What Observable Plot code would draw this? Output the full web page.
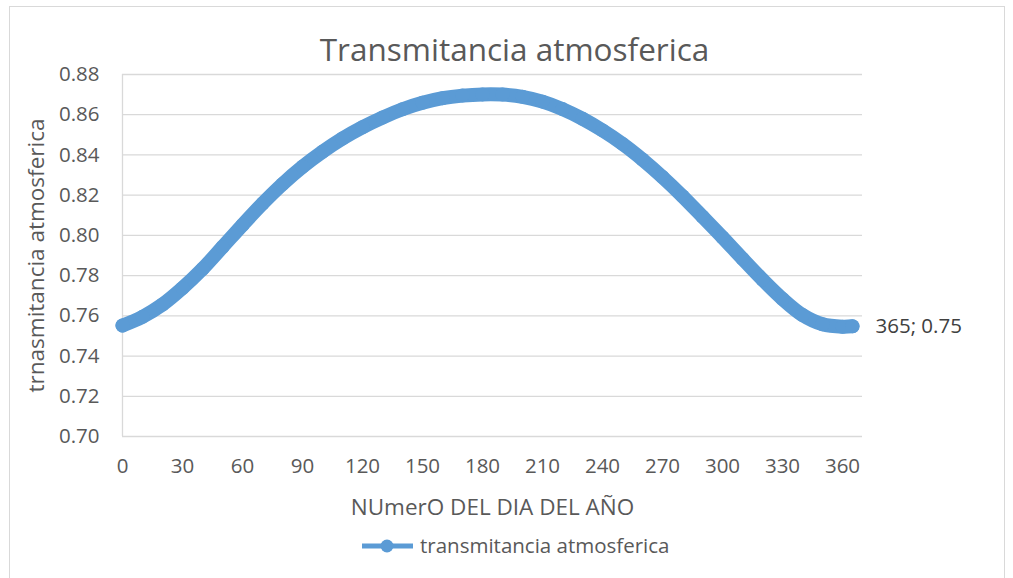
<!DOCTYPE html>
<html>
<head>
<meta charset="utf-8">
<script src="https://cdn.jsdelivr.net/npm/d3@7"></script>
<script src="https://cdn.jsdelivr.net/npm/@observablehq/plot@0.6"></script>
<style>
  html, body { margin: 0; padding: 0; background: #fff; }
  #chart { position: relative; width: 1013px; height: 578px; overflow: hidden; font-family: "Open Sans", sans-serif; }
  #frame { position: absolute; left: 9px; top: 6px; width: 996px; height: 620px; border: 1px solid #d9d9d9; box-sizing: border-box; }
  #title { position: absolute; left: 8px; top: 33px; width: 1013px; text-align: center; font-size: 31.5px; line-height: 1; color: #595959; white-space: nowrap; }
  #plot { position: absolute; left: 0; top: 0; }
  #legend-key { position: absolute; left: 360px; top: 539px; }
  #legend-text { position: absolute; left: 420px; top: 535px; font-size: 20.5px; line-height: 1; color: #595959; white-space: nowrap; }
</style>
</head>
<body>
<div id="chart">
  <div id="frame"></div>
  <div id="plot"></div>
  <div id="title">Transmitancia atmosferica</div>
  <svg id="legend-key" width="56" height="14"></svg>
  <div id="legend-text"></div>
</div>
<script>
// Day of the year and the atmospheric transmittance for that day
const days = [0, 10, 20, 30, 40, 50, 60, 70, 80, 90, 100, 110, 120, 130, 140, 150, 160, 170, 180,
              190, 200, 210, 220, 230, 240, 250, 260, 270, 280, 290, 300, 310, 320, 330, 340, 350, 360, 365];
const transmittance = [0.7552, 0.7595, 0.7656, 0.7738, 0.7833, 0.7942, 0.8052, 0.8158, 0.8255, 0.8341,
                       0.8416, 0.8482, 0.8538, 0.8586, 0.8627, 0.8659, 0.8682, 0.8695, 0.8701,
                       0.8700, 0.8689, 0.8665, 0.8628, 0.8580, 0.8522, 0.8455, 0.8377, 0.8290, 0.8195,
                       0.8093, 0.7990, 0.7884, 0.7780, 0.7684, 0.7604, 0.7558, 0.7546, 0.7548];

const seriesName = "transmitancia atmosferica";
const xTitle = "NUmerO DEL DIA DEL AÑO";
const yTitle = "trnasmitancia atmosferica";
const xTicks = [0, 30, 60, 90, 120, 150, 180, 210, 240, 270, 300, 330, 360];
const yTicks = [0.70, 0.72, 0.74, 0.76, 0.78, 0.80, 0.82, 0.84, 0.86, 0.88];

const blue = "#5b9bd5";
const grid = "#d9d9d9";
const fmt2 = d3.format(".2f");

const data = days.map((day, i) => ({day, value: transmittance[i]}));
const last = data[data.length - 1];

const chart = Plot.plot({
  width: 1013,
  height: 578,
  marginLeft: 122,
  marginRight: 151,
  marginTop: 74,
  marginBottom: 142,
  style: {fontFamily: "Open Sans, sans-serif", fontSize: "20.5px", color: "#595959", background: "transparent"},
  x: {domain: [0, 370]},
  y: {domain: [0.70, 0.88]},
  marks: [
    Plot.gridY(yTicks, {stroke: grid, strokeOpacity: 1, strokeWidth: 1.3}),
    Plot.ruleX([0], {stroke: grid, strokeWidth: 1.3}),
    Plot.axisY({ticks: yTicks, tickFormat: fmt2, tickSize: 0, tickPadding: 23, label: null}),
    Plot.axisX({ticks: xTicks, tickSize: 0, tickPadding: 22, label: null}),
    Plot.text([yTitle], {frameAnchor: "left", dx: -86, rotate: -90, textAnchor: "middle",
                         lineAnchor: "middle", fontSize: 22.5, fill: "#595959"}),
    Plot.text([xTitle], {frameAnchor: "bottom", dy: 71, textAnchor: "middle",
                         lineAnchor: "middle", fontSize: 22.5, fill: "#595959"}),
    Plot.line(data, {x: "day", y: "value", stroke: blue, strokeWidth: 14, curve: "catmull-rom",
                     strokeLinecap: "round", strokeLinejoin: "round"}),
    Plot.dot(data, {x: "day", y: "value", r: 7, fill: blue, stroke: "none"}),
    Plot.text([last], {x: "day", y: "value", text: d => `${d.day}; ${fmt2(d.value)}`,
                       textAnchor: "start", dx: 23, fontSize: 20.5, fill: "#404040"})
  ]
});
document.getElementById("plot").append(chart);

// Legend: line-with-marker key followed by the series name
const key = d3.select("#legend-key");
key.append("line").attr("x1", 2).attr("x2", 53).attr("y1", 7).attr("y2", 7)
  .attr("stroke", blue).attr("stroke-width", 5);
key.append("circle").attr("cx", 27).attr("cy", 7).attr("r", 6.5).attr("fill", blue);
document.getElementById("legend-text").textContent = seriesName;
</script>
</body>
</html>
